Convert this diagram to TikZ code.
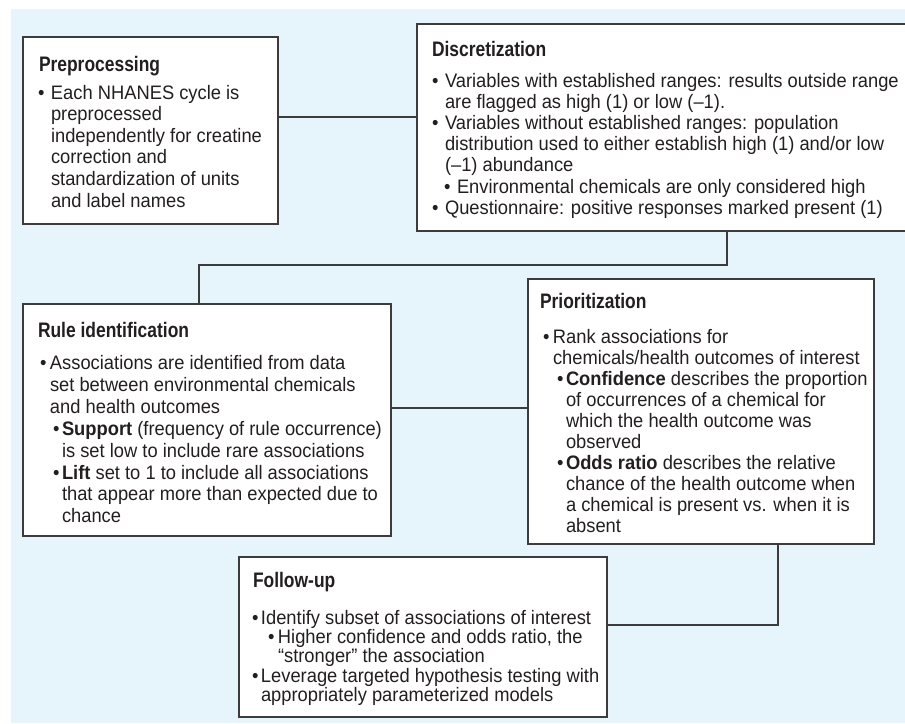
\documentclass[tikz,border=0pt]{standalone}
\usepackage{fontspec}
\setmainfont[FakeStretch=0.94]{Liberation Sans}
\newfontfamily\hfont[FakeStretch=0.83]{Liberation Sans}
\usetikzlibrary{calc}
\definecolor{bgblue}{HTML}{E6F4FC}
\definecolor{edgegray}{HTML}{3C3C3C}
\definecolor{ink}{HTML}{231F20}
\tikzset{
  stepbox/.style={draw=edgegray, line width=1.3pt, fill=white, inner sep=0pt, outer sep=0pt, anchor=north west},
  headtxt/.style={anchor=base west, inner sep=0pt, outer sep=0pt, text=ink, font=\hfont\bfseries\fontsize{21}{24}\selectfont},
  bodytxt/.style={anchor=base west, inner sep=0pt, outer sep=0pt, text=ink},
  link/.style={draw=edgegray, line width=1.3pt},
}
\newcommand\bb[1]{\makebox[#1][l]{•}}
\newcommand\ind[1]{\hspace*{#1}}
\newcommand\lineset[2]{\parbox[t]{600pt}{\fontsize{19.5}{#1}\selectfont #2}}
\begin{document}
\begin{tikzpicture}[x=1pt,y=-1pt]
\useasboundingbox (0,0) rectangle (905,723);
\fill[bgblue] (11,9) rectangle (905,723);

% boxes
\node[stepbox, minimum width=255pt, minimum height=187pt] (pre) at (23,37) {};
\node[stepbox, minimum width=493pt, minimum height=207pt] (disc) at (417,24) {};
\node[stepbox, minimum width=368pt, minimum height=232pt] (rule) at (23,304) {};
\node[stepbox, minimum width=346pt, minimum height=265pt] (prio) at (528,279) {};
\node[stepbox, minimum width=368pt, minimum height=160pt] (follow) at (239,557) {};

% connectors
\draw[link] ([yshift=-80pt]pre.north east) -- ([yshift=-80pt]pre.north east -| disc.west);
\draw[link] ([xshift=310pt]disc.south west) -- ++(0,34) -| ([xshift=176pt]rule.north west);
\draw[link] ([yshift=-104pt]rule.north east) -- ([yshift=-104pt]rule.north east -| prio.west);
\draw[link] ([xshift=250pt]prio.south west) |- ([yshift=-68pt]follow.north east);

% Preprocessing
\node[headtxt] (preh) at (39,71) {Preprocessing};
\node[bodytxt] (preb) at (38,99) {\lineset{21.6pt}{%
\bb{13pt}Each NHANES cycle is\\
\ind{13pt}preprocessed\\
\ind{13pt}independently for creatine\\
\ind{13pt}correction and\\
\ind{13pt}standardization of units\\
\ind{13pt}and label names}};

% Discretization
\node[headtxt] (disch) at (432,56) {Discretization};
\node[bodytxt] (discb) at (432,87) {\lineset{21.2pt}{%
\bb{13pt}Variables with established ranges: results outside range\\
\ind{13pt}are flagged as high (1) or low (–1).\\
\bb{13pt}Variables without established ranges: population\\
\ind{13pt}distribution used to either establish high (1) and/or low\\
\ind{13pt}(–1) abundance\\
\ind{12pt}\bb{13pt}Environmental chemicals are only considered high\\
\bb{13pt}Questionnaire: positive responses marked present (1)}};

% Rule identification
\node[headtxt] (ruleh) at (38,337) {Rule identification};
\node[bodytxt] (ruleb) at (40,369.5) {\lineset{21.9pt}{%
\bb{10pt}Associations are identified from data\\
\ind{10pt}set between environmental chemicals\\
\ind{10pt}and health outcomes\\
\ind{13pt}\bb{9pt}\textbf{Support} (frequency of rule occurrence)\\
\ind{22pt}is set low to include rare associations\\
\ind{13pt}\bb{9pt}\textbf{Lift} set to 1 to include all associations\\
\ind{22pt}that appear more than expected due to\\
\ind{22pt}chance}};

% Prioritization
\node[headtxt] (prioh) at (540,308) {Prioritization};
\node[bodytxt] (priob) at (543,343) {\lineset{21.1pt}{%
\bb{10pt}Rank associations for\\
\ind{10pt}chemicals/health outcomes of interest\\
\ind{14pt}\bb{9pt}\textbf{Confidence} describes the proportion\\
\ind{23pt}of occurrences of a chemical for\\
\ind{23pt}which the health outcome was\\
\ind{23pt}observed\\
\ind{14pt}\bb{9pt}\textbf{Odds ratio} describes the relative\\
\ind{23pt}chance of the health outcome when\\
\ind{23pt}a chemical is present vs. when it is\\
\ind{23pt}absent}};

% Follow-up
\node[headtxt] (followh) at (253,587) {Follow-up};
\node[bodytxt] (followb) at (252,624) {\lineset{19.4pt}{%
\bb{9pt}Identify subset of associations of interest\\
\ind{16pt}\bb{10pt}Higher confidence and odds ratio, the\\
\ind{26pt}“stronger” the association\\
\bb{9pt}Leverage targeted hypothesis testing with\\
\ind{9pt}appropriately parameterized models}};
\end{tikzpicture}
\end{document}
